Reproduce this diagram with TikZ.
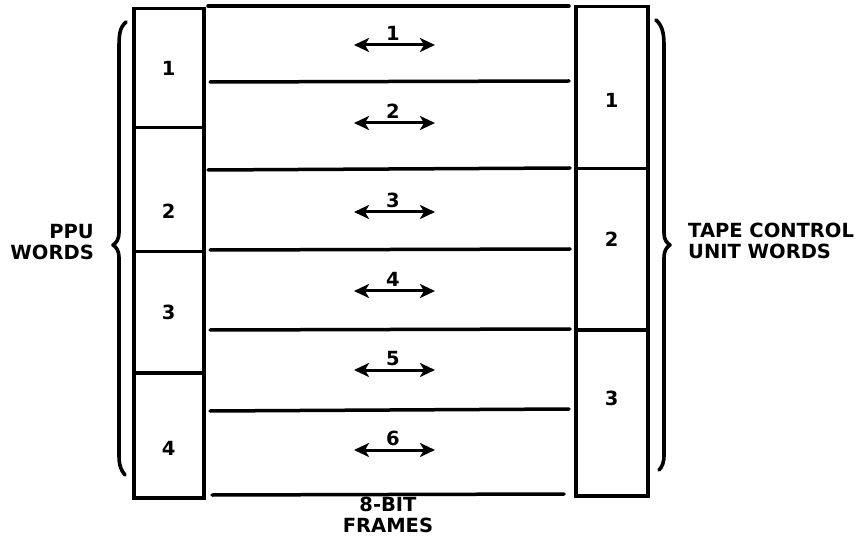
\documentclass[tikz,border=0pt]{standalone}
\usepackage{fontspec}
\setmainfont{DejaVu Sans}
\usetikzlibrary{arrows.meta}
\begin{document}
\begin{tikzpicture}[x=1pt,y=-1pt,
  thick line/.style={line width=3.5pt,line cap=round},
  lbl/.style={font=\bfseries\fontsize{19.5}{21}\selectfont,inner sep=0pt},
  cell/.style={draw,line width=3.5pt,rectangle,inner sep=0pt},
  dbl/.style={line width=3pt,{Stealth[length=15pt,width=14pt,inset=4pt]}-{Stealth[length=15pt,width=14pt,inset=4pt]}},
  brace/.style={line width=3.6pt,line cap=round,line join=round}]
\useasboundingbox (0,0) rectangle (868,548);
% left column (PPU words)
\node[cell,minimum width=70pt,minimum height=119pt,anchor=north west] (p1) at (132,7) {};
\node[cell,minimum width=70pt,minimum height=124pt,anchor=north west] (p2) at (132,126) {};
\node[cell,minimum width=70pt,minimum height=121pt,anchor=north west] (p3) at (132,250) {};
\node[cell,minimum width=70pt,minimum height=125pt,anchor=north west] (p4) at (132,371) {};
\node[lbl] (p1l) at (p1.center) {1};
\node[lbl] (p2l) at ([yshift=-22pt]p2.center) {2};
\node[lbl] (p3l) at (p3.center) {3};
\node[lbl] (p4l) at ([yshift=-13pt]p4.center) {4};
% right column (tape control unit words)
\node[cell,minimum width=72pt,minimum height=162pt,anchor=north west] (t1) at (574,5) {};
\node[cell,minimum width=72pt,minimum height=161pt,anchor=north west] (t2) at (574,167) {};
\node[cell,minimum width=72pt,minimum height=166pt,anchor=north west] (t3) at (574,328) {};
\node[lbl] (t1l) at ([yshift=-13pt]t1.center) {1};
\node[lbl] (t2l) at ([yshift=10pt]t2.center) {2};
\node[lbl] (t3l) at ([yshift=14pt]t3.center) {3};
% frame separator lines
\coordinate (a0) at (208,6);   \coordinate (b0) at (569,6);
\coordinate (a1) at (210,82);  \coordinate (b1) at (569,81);
\coordinate (a2) at (208,170); \coordinate (b2) at (570,168);
\coordinate (a3) at (210,250); \coordinate (b3) at (570,249);
\coordinate (a4) at (210,330); \coordinate (b4) at (570,329);
\coordinate (a5) at (210,411); \coordinate (b5) at (569,409);
\coordinate (a6) at (212,495); \coordinate (b6) at (564,494);
\foreach \i in {0,...,6} {\draw[thick line] (a\i) -- (b\i);}
% frame arrows and numbers
\foreach \n/\y in {1/45,2/123,3/212,4/291,5/370,6/450} {
  \coordinate (l\n) at (354,\y);
  \coordinate (r\n) at (435,\y);
  \draw[dbl] (l\n) -- (r\n);
  \node[lbl,anchor=south] (f\n) at (393,\y-4) {\n};
}
% braces
\draw[brace] (126,22) .. controls (119,28) and (119,36) .. (119,50)
  -- (119,232) .. controls (119,240) and (116,243) .. (113,245)
  .. controls (116,247) and (119,250) .. (119,258)
  -- (119,455) .. controls (119,466) and (121,470) .. (125,475);
\draw[brace] (656,20) .. controls (662,25) and (664,33) .. (664,45)
  -- (664,233) .. controls (664,240) and (667,243) .. (670,245)
  .. controls (667,247) and (664,250) .. (664,258)
  -- (664,455) .. controls (664,463) and (662,467) .. (659,470);
% side and bottom labels
\node[lbl,align=right,anchor=east] (ppu) at (94,242) {PPU\\WORDS};
\node[lbl,align=left,anchor=west] (tcu) at (688,241) {TAPE CONTROL\\UNIT WORDS};
\node[lbl,align=center,anchor=north] (bit) at (388,497) {8-BIT\\FRAMES};
\end{tikzpicture}
\end{document}
